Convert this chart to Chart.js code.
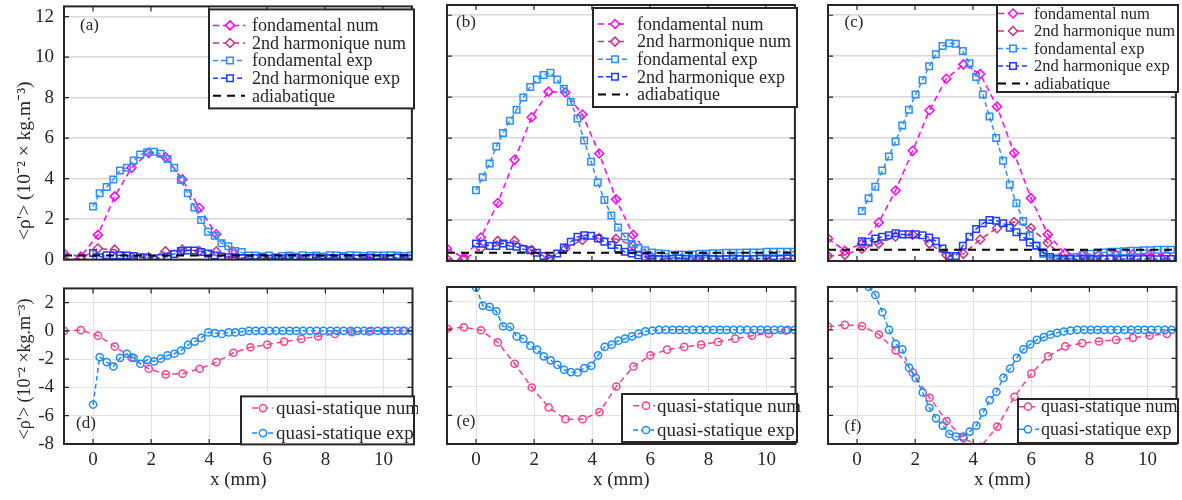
<!DOCTYPE html>
<html><head><meta charset="utf-8">
<script src="https://cdn.jsdelivr.net/npm/chart.js@4.4.1/dist/chart.umd.min.js"></script>
<style>
html,body{margin:0;padding:0;background:#fff;}
#wrap{position:relative;width:1182px;height:500px;overflow:hidden;background:#fff;}
canvas{position:absolute;}
</style></head><body><div id="wrap">
<canvas id="pa" width="418" height="296" style="left:0px;top:-15px"></canvas>
<canvas id="pb" width="418" height="296" style="left:383px;top:-15px"></canvas>
<canvas id="pc" width="418" height="296" style="left:764px;top:-15px"></canvas>
<canvas id="pd" width="418" height="233" style="left:0px;top:267px"></canvas>
<canvas id="pe" width="418" height="233" style="left:383px;top:267px"></canvas>
<canvas id="pf" width="418" height="233" style="left:764px;top:267px"></canvas>
</div>
<script>
// ---------- tick labels ----------
const xTicks = [0, 2, 4, 6, 8, 10];
const yTicksTop = [0, 2, 4, 6, 8, 10, 12];
const yTicksBottom = [-8, -6, -4, -2, 0, 2];

// ---------- x positions (mm) ----------
const xNum = [-1, -0.42, 0.17, 0.75, 1.33, 1.92, 2.5, 3.08, 3.67, 4.25, 4.83, 5.42, 6.0, 6.58, 7.17, 7.75, 8.33, 8.92, 9.5, 10.08, 10.67];
const xExp = [0,0.23,0.47,0.70,0.93,1.17,1.40,1.63,1.87,2.10,2.33,2.57,2.80,3.03,3.27,3.50,3.73,3.97,4.20,4.43,4.67,4.90,5.13,5.37,5.60,5.83,6.07,6.30,6.53,6.77,7.00,7.23,7.47,7.70,7.93,8.17,8.40,8.63,8.87,9.10,9.33,9.57,9.80,10.03,10.27,10.50,10.73,10.97];
const xExpC = [0.17,0.40,0.63,0.87,1.10,1.33,1.56,1.79,2.02,2.26,2.49,2.72,2.95,3.18,3.41,3.65,3.88,4.11,4.34,4.57,4.80,5.04,5.27,5.50,5.73,5.96,6.19,6.43,6.66,6.89,7.12,7.35,7.58,7.82,8.05,8.28,8.51,8.74,8.97,9.21,9.44,9.67,9.90,10.13,10.36,10.60,10.83];
const xAdiab = [-1, 11];

// ---------- panel (a) ----------
const aFondNum = [0.3,0.15,1.22,3.12,4.53,5.27,5.05,3.96,2.55,1.25,0.4,0.0,-0.05,-0.05,-0.05,-0.05,-0.05,-0.05,-0.05,-0.05,-0.05];
const aHarmNum = [0.0,0.05,0.55,0.49,0.12,0.11,0.41,0.5,0.42,0.4,0.08,0.0,0.02,0.0,0.02,0.0,0.02,0.0,0.02,0.0,0.02];
const aFondExp = [2.62,3.27,3.58,3.96,4.40,4.53,4.89,5.19,5.30,5.33,5.22,4.97,4.53,3.93,3.27,2.57,1.95,1.38,1.18,0.81,0.66,0.42,0.37,0.20,0.20,0.15,0.20,0.12,0.18,0.20,0.15,0.22,0.18,0.20,0.15,0.22,0.20,0.18,0.22,0.20,0.18,0.22,0.20,0.20,0.22,0.20,0.18,0.20];
const aHarmExp = [0.33,0.12,0.22,0.20,0.22,0.20,0.18,0.12,0.10,0.02,0.08,0.15,0.28,0.42,0.45,0.45,0.38,0.30,0.20,0.15,0.12,0.10,0.08,0.05,0.08,0.10,0.05,0.08,0.05,0.10,0.08,0.05,0.08,0.10,0.05,0.08,0.05,0.10,0.08,0.05,0.08,0.10,0.05,0.08,0.05,0.10,0.08,0.05];
const aAdiab = [0.2, 0.2];

// ---------- panel (b) ----------
const bFondNum = [0.6,0.15,1.15,2.83,4.94,7.02,8.27,8.23,7.15,5.25,3.01,1.28,0.25,-0.05,-0.05,-0.05,-0.05,-0.05,-0.05,-0.05,-0.05];
const bHarmNum = [0.1,0.07,0.62,0.98,0.98,0.53,0.12,0.61,1.03,1.12,1.08,0.75,0.05,-0.05,-0.05,-0.05,-0.05,-0.05,-0.05,-0.05,-0.05];
const bFondExp = [3.45,4.09,4.76,5.59,6.25,6.85,7.39,7.98,8.50,8.86,9.08,9.19,8.86,8.41,7.76,6.96,5.88,4.85,3.83,2.98,2.22,1.63,1.20,0.83,0.63,0.52,0.42,0.38,0.35,0.30,0.32,0.30,0.32,0.35,0.35,0.38,0.38,0.40,0.40,0.40,0.42,0.42,0.42,0.45,0.45,0.45,0.45,0.45];
const bHarmExp = [0.86,0.84,0.73,0.73,0.86,0.73,0.69,0.58,0.53,0.40,0.24,0.10,0.37,0.66,0.94,1.18,1.26,1.23,1.10,0.94,0.78,0.61,0.45,0.37,0.28,0.20,0.12,0.10,0.08,0.10,0.12,0.10,0.08,0.10,0.12,0.10,0.08,0.10,0.12,0.10,0.08,0.10,0.12,0.10,0.08,0.10,0.12,0.10];
const bAdiab = [0.4, 0.4];

// ---------- panel (c) ----------
const cFondNum = [1.1,0.5,0.85,1.88,3.44,5.38,7.36,8.9,9.6,9.13,7.54,5.27,3.07,1.3,0.37,0.3,0.28,0.3,0.32,0.3,0.3];
const cHarmNum = [0.25,0.3,0.6,0.85,1.2,1.28,0.85,0.3,0.35,1.05,1.6,1.9,1.6,0.89,0.1,-0.05,-0.05,-0.05,-0.05,-0.05,-0.05];
const cFondExp = [2.44,3.06,3.63,4.42,5.10,5.84,6.62,7.39,8.13,8.83,9.51,10.09,10.50,10.63,10.61,10.25,9.65,8.98,8.13,7.06,6.00,4.89,3.72,2.82,1.95,1.26,0.75,0.35,0.12,0.05,0.08,0.12,0.20,0.30,0.35,0.40,0.42,0.45,0.45,0.47,0.50,0.50,0.52,0.52,0.55,0.55,0.55];
const cHarmExp = [0.97,0.94,1.10,1.18,1.26,1.35,1.30,1.30,1.30,1.26,1.15,0.97,0.61,0.25,0.25,0.74,1.18,1.56,1.84,2.00,1.97,1.84,1.62,1.40,1.18,0.90,0.74,0.42,0.20,0.12,0.10,0.10,0.08,0.10,0.10,0.08,0.10,0.10,0.08,0.10,0.10,0.08,0.10,0.10,0.08,0.10,0.10];
const cAdiab = [0.55, 0.55];

// ---------- panels (d) (e) (f) ----------
const dQsNum = [0.0,0.05,-0.34,-1.11,-1.9,-2.68,-3.08,-3.03,-2.68,-2.21,-1.55,-1.16,-0.97,-0.76,-0.57,-0.39,-0.22,-0.1,-0.05,0.0,0.0];
const dQsExp = [-5.21,-1.86,-2.21,-2.52,-1.91,-1.62,-1.91,-2.33,-2.05,-2.16,-1.97,-1.74,-1.62,-1.39,-0.99,-0.76,-0.50,-0.11,-0.16,-0.22,-0.11,-0.11,-0.07,0,0,0,0,0,0,0,0,0,0,0,0,0,0,0,0,0,0,0,0,0,0,0,0,0];
const eQsNum = [0.08,0.18,-0.03,-0.88,-2.38,-4.04,-5.44,-6.26,-6.26,-5.77,-3.97,-2.57,-1.79,-1.39,-1.2,-1.04,-0.85,-0.62,-0.41,-0.27,-0.05];
const eQsExp = [2.99,1.7,1.61,1.3,0.25,0.2,-0.46,-0.64,-1.11,-1.39,-1.86,-2.14,-2.45,-2.8,-2.96,-2.99,-2.68,-2.52,-1.79,-1.2,-1.04,-0.76,-0.62,-0.46,-0.27,-0.11,-0.05,0,0,0,0,0,0,0,0,0,0,0,0,0,0,0,0,0,0,0,0,0];
const fQsNum = [0.23,0.35,0.26,-0.33,-1.44,-3.0,-4.76,-6.39,-7.6,-8.2,-6.78,-4.69,-3.07,-1.86,-1.16,-0.93,-0.81,-0.7,-0.56,-0.4,-0.28];
const fQsExp = [null,3.02,2.44,1.23,0.0,-0.98,-1.37,-2.65,-3.37,-4.39,-5.46,-6.2,-6.71,-7.3,-7.48,-7.48,-7.13,-6.71,-5.78,-4.93,-4.34,-3.37,-2.72,-1.97,-1.37,-1.02,-0.7,-0.51,-0.33,-0.21,-0.12,-0.05,0,0,0,0,0,0,0,0,0,0,0,0,0,0,0];

// ---------- styling ----------
const SERIF = "'Liberation Serif', 'Times New Roman', serif";
const INK = '#262626';
Chart.defaults.font.family = SERIF;
Chart.defaults.color = INK;

function pts(xs, ys) { return xs.map((x, i) => ({x: x, y: ys[i]})); }
const STY = {
  fondNum: {label: 'fondamental num', borderColor: '#ff00ff', pointStyle: 'rectRot', pointRadius: 4.5, borderDash: [6, 4], order: 5},
  harmNum: {label: '2nd harmonique num', borderColor: '#cc2e86', pointStyle: 'rectRot', pointRadius: 4.5, borderDash: [6, 4], order: 4},
  fondExp: {label: 'fondamental exp', borderColor: '#2b8fff', pointStyle: 'rect', pointRadius: 4.6, borderDash: [5, 3], order: 3},
  harmExp: {label: '2nd harmonique exp', borderColor: '#1a3dff', pointStyle: 'rect', pointRadius: 4.6, borderDash: [5, 3], order: 2},
  adiab: {label: 'adiabatique', borderColor: '#000000', pointStyle: 'circle', pointRadius: 0, borderDash: [8, 6], borderWidth: 2, order: 1},
  qsNum: {label: 'quasi-statique num', borderColor: '#ff3f8e', pointStyle: 'circle', pointRadius: 3.6, borderDash: [6, 4], order: 2},
  qsExp: {label: 'quasi-statique exp', borderColor: '#1a8cff', pointStyle: 'circle', pointRadius: 3.6, borderDash: [5, 3], order: 1}
};
function ds(kind, xs, ys) {
  const s = STY[kind];
  return {
    label: s.label, data: pts(xs, ys), borderColor: s.borderColor, backgroundColor: s.borderColor,
    borderWidth: s.borderWidth || 1.5, borderDash: s.borderDash, pointStyle: s.pointStyle,
    pointRadius: s.pointRadius, pointBorderWidth: 1.5, pointBorderColor: s.borderColor,
    pointBackgroundColor: 'rgba(0,0,0,0)', fill: false, tension: 0, spanGaps: false, order: s.order
  };
}

const decoPlugin = {
  id: 'deco',
  afterDatasetsDraw(chart, args, o) {
    const ctx = chart.ctx, ca = chart.chartArea, sx = chart.scales.x, sy = chart.scales.y;
    ctx.save();
    ctx.strokeStyle = INK; ctx.lineWidth = 1.2; ctx.setLineDash([]);
    ctx.beginPath();
    sy.ticks.forEach(t => {
      const y = sy.getPixelForValue(t.value);
      ctx.moveTo(ca.left, y); ctx.lineTo(ca.left + 5, y);
      ctx.moveTo(ca.right, y); ctx.lineTo(ca.right - 5, y);
    });
    sx.ticks.forEach(t => {
      const x = sx.getPixelForValue(t.value);
      ctx.moveTo(x, ca.bottom); ctx.lineTo(x, ca.bottom - 5);
      ctx.moveTo(x, ca.top); ctx.lineTo(x, ca.top + 5);
    });
    ctx.stroke();
    ctx.lineWidth = 2;
    ctx.strokeRect(ca.left, ca.top, ca.right - ca.left, ca.bottom - ca.top);
    ctx.fillStyle = INK; ctx.font = '17px ' + SERIF; ctx.textAlign = 'center'; ctx.textBaseline = 'middle';
    ctx.fillText(o.label, ca.left + o.labelPos[0], ca.top + o.labelPos[1]);
    const L = o.legend;
    const bx0 = ca.left + L.box[0], by0 = ca.top + L.box[1], bx1 = ca.left + L.box[2], by1 = ca.top + L.box[3];
    ctx.fillStyle = '#ffffff'; ctx.fillRect(bx0, by0, bx1 - bx0, by1 - by0);
    ctx.strokeStyle = INK; ctx.lineWidth = 2; ctx.strokeRect(bx0, by0, bx1 - bx0, by1 - by0);
    chart.data.datasets.forEach((d, i) => {
      const y = by0 + L.row0 + i * L.rowH;
      ctx.save();
      ctx.strokeStyle = d.borderColor; ctx.lineWidth = d.borderWidth; ctx.setLineDash(d.borderDash || []);
      ctx.beginPath(); ctx.moveTo(bx0 + L.line[0], y); ctx.lineTo(bx0 + L.line[1], y); ctx.stroke();
      ctx.setLineDash([]);
      if (d.pointRadius > 0) {
        ctx.fillStyle = '#ffffff'; ctx.lineWidth = d.pointBorderWidth;
        Chart.helpers.drawPoint(ctx, {pointStyle: d.pointStyle, radius: d.pointRadius, borderWidth: d.pointBorderWidth, rotation: 0}, bx0 + L.mark, y);
      }
      ctx.restore();
      ctx.fillStyle = INK; ctx.font = L.font + 'px ' + SERIF; ctx.textAlign = 'left'; ctx.textBaseline = 'middle';
      ctx.fillText(d.label, bx0 + L.text, y + 1);
    });
    ctx.restore();
  }
};

function makePanel(id, datasets, p) {
  const top = p.row === 'top';
  new Chart(document.getElementById(id), {
    type: 'line',
    data: {datasets: datasets},
    plugins: [decoPlugin],
    options: {
      responsive: false, animation: false, devicePixelRatio: 1,
      layout: {padding: {top: 20, right: 4, left: 0, bottom: 0}},
      plugins: {legend: {display: false}, tooltip: {enabled: false}, deco: p.deco},
      scales: {
        x: {
          type: 'linear', min: -1, max: 11,
          afterBuildTicks: s => { s.ticks = xTicks.map(v => ({value: v})); },
          afterFit: s => { s.height = top ? 20 : 56; },
          border: {display: false},
          grid: {display: !top, color: '#e2e2e2', lineWidth: 1, drawTicks: false},
          ticks: {display: !top, padding: 5, font: {size: 19, family: SERIF}, color: INK},
          title: {display: !top, text: 'x (mm)', font: {size: 19, family: SERIF}, color: INK, padding: {top: 0, bottom: 8.6}}
        },
        y: {
          type: 'linear', min: top ? 0 : -8, max: top ? 12.5 : 3,
          afterBuildTicks: s => { s.ticks = (top ? yTicksTop : yTicksBottom).map(v => ({value: v})); },
          afterFit: s => { s.width = 64; },
          border: {display: false},
          grid: {color: top ? '#d9d9d9' : '#e2e2e2', lineWidth: top ? 1.6 : 1, drawTicks: false},
          ticks: {display: p.yLabels, padding: 10, font: {size: 19, family: SERIF}, color: INK},
          title: {
            display: p.yLabels, align: 'start',
            text: top ? "\u00a0\u00a0\u00a0\u00a0<ρ'> (10⁻² × kg.m⁻³)" : "\u00a0<ρ'> (10⁻² ×kg.m⁻³)",
            font: {size: top ? 19.5 : 18, family: SERIF}, color: INK,
            padding: {top: top ? 13.4 : 14.2, bottom: 0}
          }
        }
      }
    }
  });
}

const legTopAB = (bx) => ({box: [bx, 3, 350, 102], line: [4, 36], mark: 21, text: 43, row0: 16, rowH: 17.6, font: 18});

makePanel('pa', [ds('fondNum', xNum, aFondNum), ds('harmNum', xNum, aHarmNum), ds('fondExp', xExp, aFondExp), ds('harmExp', xExp, aHarmExp), ds('adiab', xAdiab, aAdiab)],
  {row: 'top', yLabels: true, deco: {label: '(a)', labelPos: [25.5, 19], legend: legTopAB(145)}});
makePanel('pb', [ds('fondNum', xNum, bFondNum), ds('harmNum', xNum, bHarmNum), ds('fondExp', xExp, bFondExp), ds('harmExp', xExp, bHarmExp), ds('adiab', xAdiab, bAdiab)],
  {row: 'top', yLabels: false, deco: {label: '(b)', labelPos: [19, 18], legend: {box: [146, 3, 350, 102], line: [5, 35], mark: 22, text: 44, row0: 16, rowH: 17.6, font: 18}}});
makePanel('pc', [ds('fondNum', xNum, cFondNum), ds('harmNum', xNum, cHarmNum), ds('fondExp', xExpC, cFondExp), ds('harmExp', xExpC, cHarmExp), ds('adiab', xAdiab, cAdiab)],
  {row: 'top', yLabels: false, deco: {label: '(c)', labelPos: [26, 18], legend: {box: [169, 0, 350, 87], line: [1, 31], mark: 16, text: 37, row0: 8.5, rowH: 17.5, font: 16.5}}});
makePanel('pd', [ds('qsNum', xNum, dQsNum), ds('qsExp', xExp, dQsExp)],
  {row: 'bottom', yLabels: true, deco: {label: '(d)', labelPos: [22, 135], legend: {box: [177, 108, 350, 156], line: [11, 32], mark: 22, text: 35, row0: 11.7, rowH: 25, font: 19}}});
makePanel('pe', [ds('qsNum', xNum, eQsNum), ds('qsExp', xExp, eQsExp)],
  {row: 'bottom', yLabels: false, deco: {label: '(e)', labelPos: [19, 135], legend: {box: [175, 107, 350, 155], line: [11, 33], mark: 24, text: 35, row0: 11.7, rowH: 24.3, font: 19}}});
makePanel('pf', [ds('qsNum', xNum, fQsNum), ds('qsExp', xExpC, fQsExp)],
  {row: 'bottom', yLabels: false, deco: {label: '(f)', labelPos: [25, 139.5], legend: {box: [190, 112, 350, 156], line: [1, 21], mark: 10, text: 23, row0: 7.7, rowH: 22.6, font: 18}}});
</script>
</body></html>
